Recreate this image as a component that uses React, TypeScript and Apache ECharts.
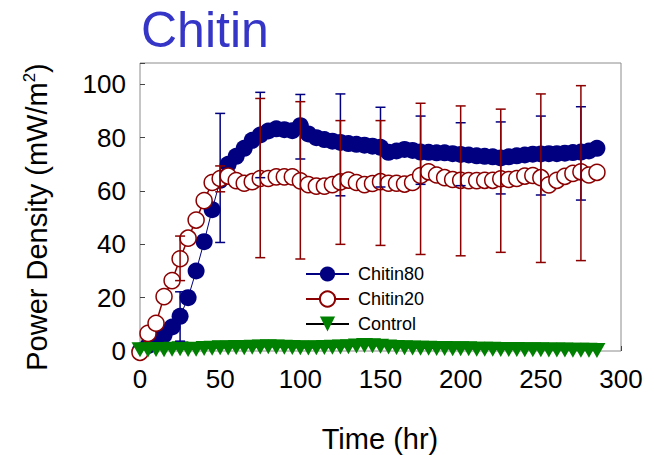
import React, { useEffect, useRef } from "react";
import * as echarts from "echarts";

const FONT = "'Liberation Sans', Arial, Helvetica, sans-serif";

const times = [
  0, 5, 10, 15, 20, 25, 30, 35, 40, 45, 50, 55, 60, 65, 70, 75, 80, 85, 90, 95,
  100, 105, 110, 115, 120, 125, 130, 135, 140, 145, 150, 155, 160, 165, 170, 175,
  180, 185, 190, 195, 200, 205, 210, 215, 220, 225, 230, 235, 240, 245, 250, 255,
  260, 265, 270, 275, 280, 285,
];

const chitin80 = [
  0, 2, 4, 6, 9, 13, 20, 30, 41, 53, 64, 70, 73, 76, 79, 81, 82.5, 83.3, 83, 82.6,
  84.5, 81.4, 80, 79.3, 78.7, 78.2, 77.8, 77.5, 77.2, 76.8, 76.4, 74.5, 75, 75.6,
  75.2, 74.6, 74.5, 74.3, 74.3, 74, 73.7, 73.5, 73.2, 73, 72.8, 72.4, 72.8, 73.2,
  73.5, 73.8, 73.9, 74, 74, 74.2, 74.4, 74.6, 75, 76,
];

const chitin20 = [
  -0.5, 6.6, 10.4, 20.4, 26.4, 34.6, 42.3, 49.1, 56.4, 63.2, 64.7, 65.6, 63.9, 62.9,
  63.5, 64.7, 64.7, 65.3, 65.3, 65.3, 63.8, 62.4, 61.8, 61.8, 62.4, 63.4, 64.1, 63.2,
  62.4, 62.8, 63.5, 62.9, 62.9, 62.6, 63.2, 65.8, 67.2, 66, 65, 64.3, 64, 63.9, 63.9,
  64, 64, 64.6, 64.3, 64.7, 65.6, 65.8, 65, 62.3, 64, 65.5, 66.6, 67.2, 66, 67,
];

const control = [
  0.5, 0.4, 0.6, 0.5, 0.7, 0.8, 0.6, 0.7, 0.9, 1.0, 1.2, 1.1, 1.3, 1.2, 1.4, 1.5,
  1.6, 1.5, 1.4, 1.3, 1.2, 1.1, 1.2, 1.3, 1.4, 1.5, 1.6, 1.9, 2.1, 2.0, 1.8, 1.5,
  1.3, 1.2, 1.1, 1.0, 1.0, 0.9, 0.9, 0.8, 0.8, 0.8, 0.7, 0.7, 0.7, 0.6, 0.6, 0.6,
  0.5, 0.5, 0.5, 0.4, 0.4, 0.4, 0.3, 0.3, 0.3, 0.2,
];

const errTimes = [25, 50, 75, 100, 125, 150, 175, 200, 225, 250, 275];
const err80Low = [3.7, 40.7, 65, 72, 58.2, 61.5, 62.5, 62, 58.9, 58.5, 56.6];
const err80High = [22.2, 89.1, 97, 96.2, 96.4, 91.4, 88.1, 85.6, 85.9, 88.1, 91.6];
const err20Low = [26.4, 59.7, 35, 34.5, 40, 39.6, 36.2, 35.7, 37, 33.2, 33.9];
const err20High = [43.1, 69.4, 94.7, 93.5, 86.4, 86.4, 92.9, 91.9, 90.7, 96.4, 99.5];

const xTicks = [0, 50, 100, 150, 200, 250, 300];
const yTicks = [0, 20, 40, 60, 80, 100];

const NAVY = "#000080";
const DARKRED = "#8b0000";
const GREEN = "#008000";

function errorSeries(name: string, low: number[], high: number[], color: string, z: number) {
  return {
    name,
    type: "custom",
    z,
    data: errTimes.map((t, i) => [t, low[i], high[i]]),
    encode: { x: 0, y: [1, 2] },
    renderItem: (_params: any, api: any) => {
      const x = api.value(0);
      const pHi = api.coord([x, api.value(2)]);
      const pLo = api.coord([x, api.value(1)]);
      const w = 5;
      const style = { stroke: color, lineWidth: 1.5 };
      return {
        type: "group",
        children: [
          { type: "line", shape: { x1: pHi[0], y1: pHi[1], x2: pLo[0], y2: pLo[1] }, style },
          { type: "line", shape: { x1: pHi[0] - w, y1: pHi[1], x2: pHi[0] + w, y2: pHi[1] }, style },
          { type: "line", shape: { x1: pLo[0] - w, y1: pLo[1], x2: pLo[0] + w, y2: pLo[1] }, style },
        ],
      };
    },
  };
}

export default function App() {
  const ref = useRef<HTMLDivElement>(null);
  useEffect(() => {
    if (!ref.current) return;
    const chart = echarts.init(ref.current, undefined, { renderer: "svg" });
    const option: any = {
      animation: false,
      backgroundColor: "#ffffff",
      textStyle: { fontFamily: FONT },
      grid: {
        left: 140,
        right: 33,
        top: 63,
        bottom: 104,
        show: true,
        borderColor: "#8c8c8c",
        borderWidth: 1,
        backgroundColor: "transparent",
      },
      xAxis: {
        type: "value",
        min: 0,
        max: 300,
        interval: 50,
        splitLine: { show: false },
        axisLine: { show: false },
        axisTick: { show: true, inside: true, length: 5, lineStyle: { color: "#444" } },
        axisLabel: {
          margin: 15,
          fontSize: 26,
          color: "#000",
          fontFamily: FONT,
          formatter: (v: number) => (xTicks.includes(v) ? String(v) : ""),
        },
      },
      yAxis: {
        type: "value",
        min: 0,
        max: 108,
        interval: 20,
        splitLine: { show: false },
        axisLine: { show: false },
        axisTick: { show: true, inside: true, length: 5, lineStyle: { color: "#444" } },
        axisLabel: {
          margin: 14,
          fontSize: 26,
          color: "#000",
          fontFamily: FONT,
          formatter: (v: number) => (yTicks.includes(v) ? String(v) : ""),
        },
      },
      legend: {
        data: ["Chitin80", "Chitin20", "Control"],
        orient: "vertical",
        left: 305,
        top: 265,
        padding: 0,
        itemWidth: 43,
        itemHeight: 19,
        itemGap: 7,
        textStyle: { fontSize: 18, color: "#000", fontFamily: FONT, padding: [0, 0, 0, 4] },
      },
      graphic: [
        {
          type: "text",
          x: 141,
          y: 30,
          style: {
            text: "Chitin",
            fontSize: 50,
            fontFamily: FONT,
            fill: "#3535c8",
            verticalAlign: "middle",
            align: "left",
          },
        },
        {
          type: "text",
          x: 380,
          y: 439,
          style: {
            text: "Time (hr)",
            fontSize: 29,
            fontFamily: FONT,
            fill: "#000",
            verticalAlign: "middle",
            align: "center",
          },
        },
        {
          type: "text",
          x: 37,
          y: 217,
          rotation: Math.PI / 2,
          style: {
            text: "{a|Power Density (mW/m}{s|2}{a|)}",
            align: "center",
            verticalAlign: "middle",
            rich: {
              a: { fontSize: 29, fontFamily: FONT, fill: "#000", lineHeight: 32 },
              s: { fontSize: 17, fontFamily: FONT, fill: "#000", lineHeight: 17, verticalAlign: "top" },
            },
          },
        },
      ],
      series: [
        {
          name: "Chitin80",
          type: "line",
          z: 2,
          clip: false,
          data: times.map((t, i) => [t, chitin80[i]]),
          symbol: "circle",
          symbolSize: 17,
          itemStyle: { color: NAVY },
          lineStyle: { color: NAVY, width: 1 },
        },
        {
          name: "Chitin20",
          type: "line",
          z: 3,
          clip: false,
          data: times.map((t, i) => [t, chitin20[i]]),
          symbol: "circle",
          symbolSize: 16,
          itemStyle: { color: "#ffffff", borderColor: DARKRED, borderWidth: 1.5 },
          lineStyle: { color: DARKRED, width: 1.5 },
        },
        {
          name: "Control",
          type: "line",
          z: 4,
          clip: false,
          data: times.map((t, i) => [t, control[i]]),
          symbol: "triangle",
          symbolRotate: 180,
          symbolSize: [17, 15],
          itemStyle: { color: GREEN },
          lineStyle: { color: "#000000", width: 1 },
        },
        errorSeries("err80", err80Low, err80High, NAVY, 5),
        errorSeries("err20", err20Low, err20High, DARKRED, 6),
      ],
    };
    chart.setOption(option);
    return () => chart.dispose();
  }, []);
  return (
    <div
      ref={ref}
      style={{ position: "absolute", left: 0, top: 0, width: 654, height: 455, background: "#fff" }}
    />
  );
}
